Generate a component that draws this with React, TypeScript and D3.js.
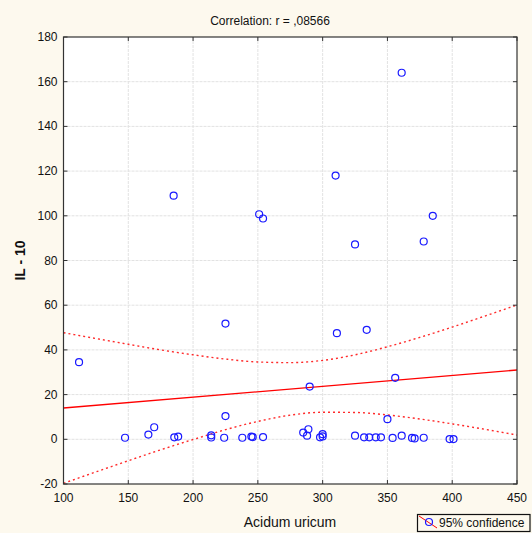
import React from "react";
import * as d3 from "d3";

const titleText = "Correlation: r = ,08566";
const xTitle = "Acidum uricum";
const yTitle = "IL - 10";
const legendLabel = "95% confidence";

const xTicks = [100, 150, 200, 250, 300, 350, 400, 450];
const yTicks = [-20, 0, 20, 40, 60, 80, 100, 120, 140, 160, 180];

const acidumUricum = [
  112, 147.5, 165.5, 170, 185.5, 188.5, 185, 214, 214, 224, 225, 225, 238, 245, 246, 251, 254, 254,
  285, 288, 289, 290, 298, 300, 300, 310, 311, 325, 325, 332, 334, 336, 341, 345, 350, 354, 356,
  361, 361, 369, 371, 378, 378, 385, 398, 401,
];
const il10 = [
  34.5, 0.7, 2.1, 5.4, 0.9, 1.2, 109, 1.8, 0.8, 0.7, 10.4, 51.8, 0.7, 1.2, 1.0, 100.7, 98.8, 1.0,
  3.0, 1.6, 4.5, 23.6, 0.9, 2.3, 1.3, 118, 47.5, 87.2, 1.6, 0.9, 49, 0.9, 0.9, 0.9, 9.0, 0.6, 27.5,
  164, 1.6, 0.6, 0.4, 88.5, 0.7, 100, 0.1, 0.1,
];

const regX = [100, 450];
const regY = [14.0, 31.0];

const ciX = [100, 125, 150, 175, 200, 225, 250, 275, 300, 325, 350, 375, 400, 425, 450];
const ciUpper = [47.7, 45.1, 42.5, 40.0, 37.8, 35.9, 34.6, 34.3, 35.3, 37.8, 41.4, 45.6, 50.2, 55.1, 60.1];
const ciLower = [-19.7, -14.6, -9.6, -4.7, -0.1, 4.3, 8.0, 10.8, 12.1, 12.0, 10.9, 9.1, 6.9, 4.5, 1.9];

const W = 532;
const H = 533;
const left = 63.5;
const right = 517;
const top = 37;
const bottom = 484;

const FONT = "'Liberation Sans', Arial, sans-serif";
const BG = "#fdf9ee";

export default function App() {
  const x = d3.scaleLinear().domain([100, 450]).range([left, right]);
  const y = d3.scaleLinear().domain([-20, 180]).range([bottom, top]);

  const pairLine = d3
    .line<[number, number]>()
    .x((d) => x(d[0]))
    .y((d) => y(d[1]));
  const curve = d3
    .line<[number, number]>()
    .x((d) => x(d[0]))
    .y((d) => y(d[1]))
    .curve(d3.curveMonotoneX);

  const regPts: [number, number][] = regX.map((v, i) => [v, regY[i]]);
  const upPts: [number, number][] = ciX.map((v, i) => [v, ciUpper[i]]);
  const loPts: [number, number][] = ciX.map((v, i) => [v, ciLower[i]]);

  const tickLen = 4;

  return (
    <svg
      width={W}
      height={H}
      style={{ position: "absolute", left: 0, top: 0, display: "block" }}
      fontFamily={FONT}
    >
      <defs>
        <clipPath id="plotClip">
          <rect x={left} y={top} width={right - left} height={bottom - top} />
        </clipPath>
      </defs>
      <rect x={0} y={0} width={W} height={H} fill={BG} />
      <rect x={left} y={top} width={right - left} height={bottom - top} fill="#ffffff" />

      {/* grid */}
      <g stroke="#e2e2e2" strokeWidth={1} strokeDasharray="3,1">
        {xTicks.slice(1, -1).map((t) => (
          <line key={"gx" + t} x1={x(t)} x2={x(t)} y1={top} y2={bottom} />
        ))}
        {yTicks.slice(1, -1).map((t) => (
          <line key={"gy" + t} x1={left} x2={right} y1={y(t)} y2={y(t)} />
        ))}
      </g>

      <g clipPath="url(#plotClip)">
        <path d={curve(upPts) || ""} fill="none" stroke="#ff2a2a" strokeWidth={1.4} strokeDasharray="2,3" />
        <path d={curve(loPts) || ""} fill="none" stroke="#ff2a2a" strokeWidth={1.4} strokeDasharray="2,3" />
        <path d={pairLine(regPts) || ""} fill="none" stroke="#ff0000" strokeWidth={1.3} />
        {acidumUricum.map((v, i) => (
          <circle key={"p" + i} cx={x(v)} cy={y(il10[i])} r={3.5} fill="none" stroke="#1a1aff" strokeWidth={1.2} />
        ))}
      </g>

      {/* frame */}
      <rect x={left} y={top} width={right - left} height={bottom - top} fill="none" stroke="#333" strokeWidth={1.2} />

      {/* ticks inward */}
      <g stroke="#333" strokeWidth={1}>
        {xTicks.map((t) => (
          <g key={"tx" + t}>
            <line x1={x(t)} x2={x(t)} y1={bottom} y2={bottom - tickLen} />
            <line x1={x(t)} x2={x(t)} y1={top} y2={top + tickLen} />
          </g>
        ))}
        {yTicks.map((t) => (
          <g key={"ty" + t}>
            <line x1={left} x2={left + tickLen} y1={y(t)} y2={y(t)} />
            <line x1={right} x2={right - tickLen} y1={y(t)} y2={y(t)} />
          </g>
        ))}
      </g>

      {/* tick labels */}
      <g fontSize={12} fill="#111">
        {xTicks.map((t) => (
          <text key={"lx" + t} x={x(t)} y={502} textAnchor="middle">
            {t}
          </text>
        ))}
        {yTicks.map((t) => (
          <text key={"ly" + t} x={57.5} y={y(t) + 4} textAnchor="end">
            {t}
          </text>
        ))}
      </g>

      <text x={270} y={25} fontSize={12} textAnchor="middle" fill="#111">
        {titleText}
      </text>
      <text x={290} y={527} fontSize={14} textAnchor="middle" fill="#111">
        {xTitle}
      </text>
      <text
        x={0}
        y={0}
        fontSize={14}
        fontWeight="bold"
        textAnchor="middle"
        fill="#111"
        transform={`translate(25, ${(top + bottom) / 2}) rotate(-90)`}
      >
        {yTitle}
      </text>

      {/* legend */}
      <g>
        <rect x={417.5} y={514.5} width={112.5} height={17} fill={BG} stroke="#111" strokeWidth={1.2} />
        <line x1={419} y1={516} x2={437} y2={528} stroke="#ff0000" strokeWidth={1} />
        <circle cx={429} cy={522} r={3.5} fill="none" stroke="#1a1aff" strokeWidth={1.2} />
        <text x={439} y={527} fontSize={12} fill="#111">
          {legendLabel}
        </text>
      </g>
    </svg>
  );
}
